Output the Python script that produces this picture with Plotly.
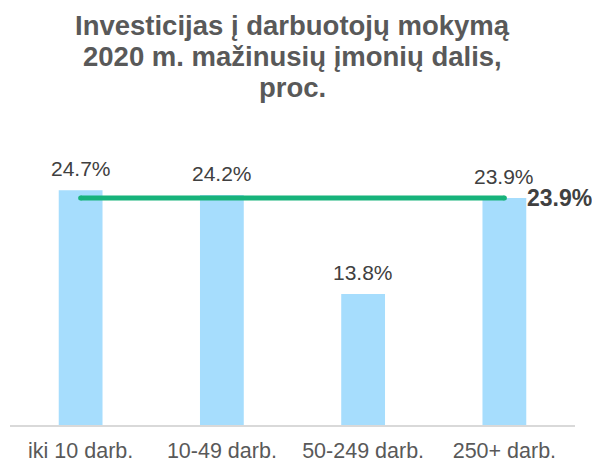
import plotly.graph_objects as go

categories = ["iki 10 darb.", "10-49 darb.", "50-249 darb.", "250+ darb."]
values = [24.7, 24.2, 13.8, 23.9]
value_labels = ["24.7%", "24.2%", "13.8%", "23.9%"]
avg_value = 23.9
avg_label = "23.9%"
title_lines = ["Investicijas į darbuotojų mokymą", "2020 m. mažinusių įmonių dalis,", "proc."]

FONT = "Liberation Sans, Arial, sans-serif"

# page body has an 8px margin, so the figure is 8px smaller than the window
W, H = 592, 455
T, B, L, R = 170, 38, 2, 25
PH = H - T - B

fig = go.Figure()
fig.add_trace(go.Bar(
    x=categories, y=values,
    marker=dict(color="#A6DDFD", line=dict(width=0)),
    width=0.31, hoverinfo="skip",
))
fig.add_trace(go.Scatter(
    x=[categories[0], categories[-1]], y=[avg_value, avg_value],
    mode="lines+markers",
    line=dict(color="#17B37B", width=5),
    marker=dict(color="#17B37B", size=5),
    hoverinfo="skip", cliponaxis=False,
))

for c, v, t in zip(categories, values, value_labels):
    fig.add_annotation(x=c, y=v, text=t, showarrow=False,
                       xanchor="center", yanchor="bottom", yshift=8,
                       font=dict(family=FONT, size=21, color="#404040"))

fig.add_annotation(x=categories[-1], y=avg_value, text="<b>" + avg_label + "</b>",
                   showarrow=False, xanchor="left", yanchor="middle", xshift=21,
                   font=dict(family=FONT, size=23, color="#404040"))

title_mid_px = [17, 48.5, 80]
for line, p in zip(title_lines, title_mid_px):
    fig.add_annotation(x=0.5, xref="paper", y=1 + (T - p) / PH, yref="paper",
                       text="<b>" + line + "</b>", showarrow=False,
                       xanchor="center", yanchor="middle",
                       font=dict(family=FONT, size=27.5, color="#595959"))

fig.update_layout(
    width=W, height=H,
    margin=dict(l=L, r=R, t=T, b=B, autoexpand=False),
    paper_bgcolor="white", plot_bgcolor="white",
    showlegend=False,
    xaxis=dict(range=[-0.5, 3.5], showline=True, linecolor="#D9D9D9", linewidth=2,
               showgrid=False, zeroline=False, ticks="", automargin=False,
               ticklabelstandoff=5,
               tickfont=dict(family=FONT, size=21.5, color="#595959")),
    yaxis=dict(range=[0, 26], visible=False, showgrid=False, zeroline=False),
    bargap=0.69,
)

fig.write_html("out.html")
